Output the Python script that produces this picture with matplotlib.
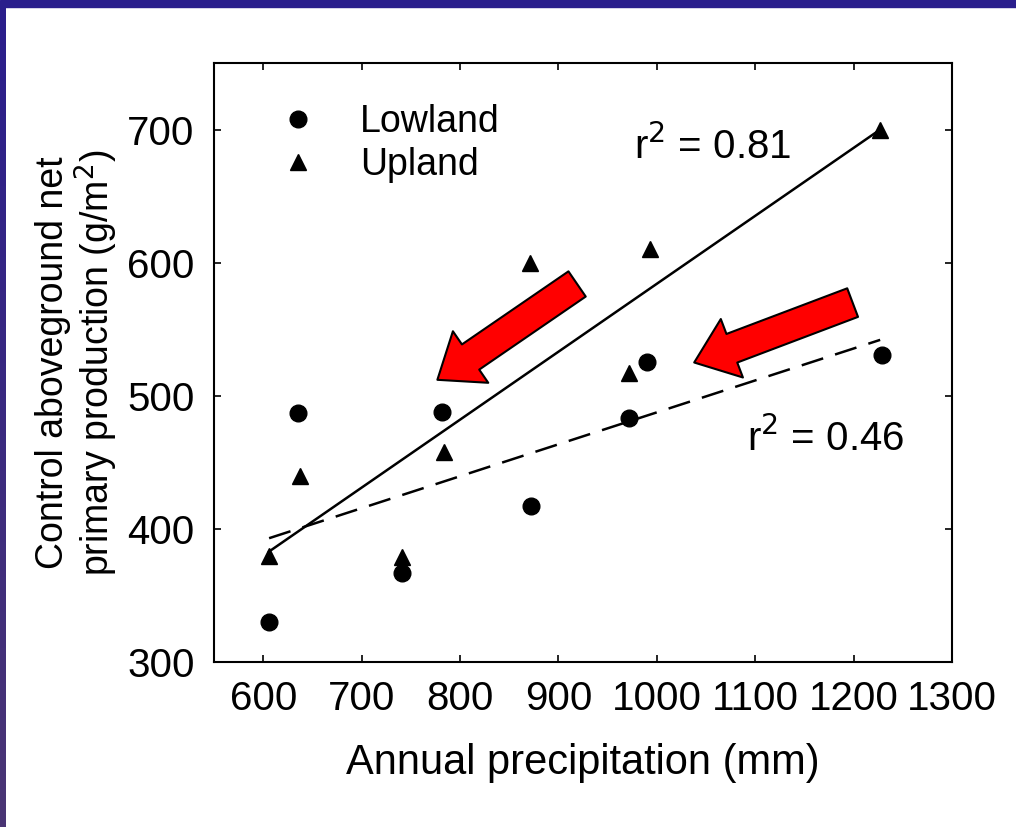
import matplotlib
matplotlib.use("Agg")
import matplotlib.pyplot as plt
import numpy as np
from matplotlib.patches import Rectangle, FancyArrowPatch

#шрифт как на слайде (узкого нет, берем обычный)
plt.rcParams['font.family'] = ['Liberation Sans', 'DejaVu Sans']

#данные
lowland_x = [606, 635, 741, 782, 872, 972, 990, 1229]
lowland_y = [330, 487, 367, 488, 417, 483, 525, 531]
upland_x = [606, 637, 741, 784, 871, 972, 993, 1227]
upland_y = [380, 440, 379, 458, 600, 517, 610, 700]

fit_x = [606, 1227]
upland_fit = [383, 700]
lowland_fit = [393, 542]

x_ticks = [600, 700, 800, 900, 1000, 1100, 1200, 1300]
y_ticks = [300, 400, 500, 600, 700]

#стрелки: (хвост, острие) в координатах данных
arrows = [((919, 584), (777, 512)),
          ((1199, 570), (1038, 525))]

fig = plt.figure(figsize=(10.16, 8.27), dpi=100)
fig.patch.set_facecolor('white')

#рамка слайда
fig.patches.append(Rectangle((0, 1 - 7 / 827), 1, 7 / 827, transform=fig.transFigure,
                             color='#2a1e8c', zorder=0))
band = fig.add_axes([0, 0, 6 / 1016, 1 - 7 / 827])
grad = np.linspace(0, 1, 256).reshape(-1, 1)
band.imshow(grad, aspect='auto', cmap=matplotlib.colors.LinearSegmentedColormap.from_list(
    'b', ['#2a1e8c', '#4a3574']), origin='upper')
band.axis('off')

ax = fig.add_axes([214 / 1016, 165 / 827, 738 / 1016, 599 / 827])

ax.plot(lowland_x, lowland_y, 'o', color='black', markersize=12, label='Lowland', zorder=3)
ax.plot(upland_x, upland_y, '^', color='black', markersize=11, label='Upland', zorder=3)

ax.plot(fit_x, upland_fit, '-', color='black', linewidth=1.8)
ax.plot(fit_x, lowland_fit, color='black', linewidth=1.8, dashes=(9, 5))

ax.set_xlim(550, 1300)
ax.set_ylim(300, 750)
ax.set_xticks(x_ticks)
ax.set_yticks(y_ticks)
ax.tick_params(direction='in', top=True, right=True, length=5, width=1.2,
               labelsize=29)
ax.tick_params(axis='x', pad=13)
ax.tick_params(axis='y', pad=14)
for s in ax.spines.values():
    s.set_linewidth(1.5)

ax.set_xlabel('Annual precipitation (mm)', fontsize=30, labelpad=18)
ax.set_ylabel('Control aboveground net\nprimary production (g/m$^2$)', fontsize=27,
              labelpad=5, linespacing=1.05)

ax.text(977, 687, r'r$^2$ = 0.81', fontsize=29, va='center', ha='left')
ax.text(1092, 468, r'r$^2$ = 0.46', fontsize=29, va='center', ha='left')

ax.legend(loc='upper left', bbox_to_anchor=(0.068, 0.957), frameon=False, fontsize=27,
          handletextpad=1.15, labelspacing=0.2, borderaxespad=0.0, handlelength=1.0)

for tail, tip in arrows:
    ax.add_patch(FancyArrowPatch(tail, tip, arrowstyle='simple,head_length=29,head_width=45,tail_width=22',
                                 mutation_scale=1, shrinkA=0, shrinkB=0,
                                 facecolor='#ff0000', edgecolor='black', linewidth=1.5, zorder=5))

plt.savefig('out.png', dpi=100)
